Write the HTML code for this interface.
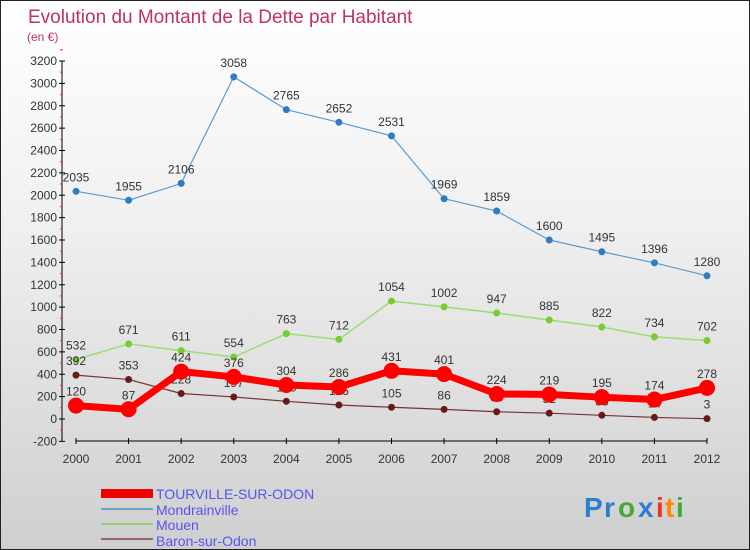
<!DOCTYPE html>
<html><head><meta charset="utf-8"><style>
body{margin:0;}
#c{width:750px;height:550px;position:relative;box-sizing:border-box;border:1px solid #222;background:linear-gradient(#ffffff,#f0f0f0 40%,#cfcfcf);font-family:"Liberation Sans",sans-serif;overflow:hidden}
svg text{font-family:"Liberation Sans",sans-serif}
</style></head><body>
<div id="c">
<svg id="s" width="750" height="550">
<text x="27" y="22" font-size="19" fill="#c0306a">Evolution du Montant de la Dette par Habitant</text>
<text x="26" y="40" font-size="12" fill="#c0306a">(en €)</text>
<g id="axes"></g><g id="series"></g>
<g>
<rect x="100" y="488" width="52" height="9" fill="#ee0000"/>
<text x="155" y="498" font-size="14" fill="#5555ee">TOURVILLE-SUR-ODON</text>
<rect x="100" y="507" width="52" height="2" fill="#6fa3cc"/>
<text x="155" y="514" font-size="14" fill="#5555ee">Mondrainville</text>
<rect x="100" y="522" width="52" height="2" fill="#99cc77"/>
<text x="155" y="529" font-size="14" fill="#5555ee">Mouen</text>
<rect x="100" y="537" width="52" height="2" fill="#996666"/>
<text x="155" y="545" font-size="14" fill="#5555ee">Baron-sur-Odon</text>
</g>
<g font-size="28" font-weight="bold">
<text x="583" y="516" fill="#2a7fd0">P</text><text x="603" y="516" fill="#2a7fd0">r</text><text x="617" y="516" fill="#44aa33">o</text><text x="637" y="516" fill="#2a7fd0">x</text><text x="655" y="516" fill="#ee3322">i</text><text x="664" y="516" fill="#ff8800">t</text><text x="675" y="516" fill="#44aa33">i</text>
</g>
</svg>
</div>
<script>
const years=[2000,2001,2002,2003,2004,2005,2006,2007,2008,2009,2010,2011,2012];
const tourville=[120,87,424,376,304,286,431,401,224,219,195,174,278];
const mondrainville=[2035,1955,2106,3058,2765,2652,2531,1969,1859,1600,1495,1396,1280];
const mouen=[532,671,611,554,763,712,1054,1002,947,885,822,734,702];
const baron=[392,353,228,197,158,125,105,86,65,52,33,14,3];
const yTicks=[-200,0,200,400,600,800,1000,1200,1400,1600,1800,2000,2200,2400,2600,2800,3000,3200];
const NS="http://www.w3.org/2000/svg";
function X(i){return 75+i*(706-75)/(years.length-1);}
function Y(v){return 418-v*(418-60)/3200;}
function mk(tag,attrs,parent){const e=document.createElementNS(NS,tag);for(const k in attrs)e.setAttribute(k,attrs[k]);parent.appendChild(e);return e;}
const ax=document.getElementById('axes');
let l=mk('line',{x1:61,y1:Y(3200),x2:61,y2:440,stroke:'#000'},ax);


yTicks.forEach((t)=>{
  mk('line',{x1:58,x2:64,y1:Y(t),y2:Y(t),stroke:'#000'},ax);
  mk('line',{x1:59,x2:62,y1:Y(t+100),y2:Y(t+100),stroke:'#e33'},ax);
  const tx=mk('text',{x:56,y:Y(t)+4,'font-size':12,'text-anchor':'end',fill:'#333'},ax);
  tx.textContent=t;
  
  
});
l=mk('line',{x1:75,y1:440,x2:706,y2:440,stroke:'#000'},ax);


years.forEach((y,i)=>{
  mk('line',{x1:X(i),x2:X(i),y1:437,y2:443,stroke:'#000'},ax);
  const tx=mk('text',{x:X(i),y:462,'font-size':12,'text-anchor':'middle',fill:'#333'},ax);
  tx.textContent=y;
  
  
});
const sg=document.getElementById('series');
function draw(name,vals,color,lw,r,dot){
  const g=mk('g',{},sg);
  
  
  const p=mk('polyline',{points:vals.map((v,i)=>X(i)+','+Y(v)).join(' '),fill:'none',stroke:color,'stroke-width':lw,'stroke-linejoin':'round'},g);
  
  
  vals.forEach((v,i)=>{
    const c=mk('circle',{cx:X(i),cy:Y(v),r:r,fill:dot},g);
    
    
    const t=mk('text',{x:X(i),y:Y(v)-10,'font-size':12,'text-anchor':'middle',fill:'#333'},g);
    t.textContent=v;
    
    
  });
}
draw('mondrainville',mondrainville,'#5b9bd0',1.2,3.5,'#2f7cc0');
draw('mouen',mouen,'#99dd77',1.5,3.5,'#77cc33');
draw('baron',baron,'#773333',1.2,3.5,'#661a1a');
draw('tourville',tourville,'#ff0000',7,8,'#ff0000');
</script>
</body></html>
